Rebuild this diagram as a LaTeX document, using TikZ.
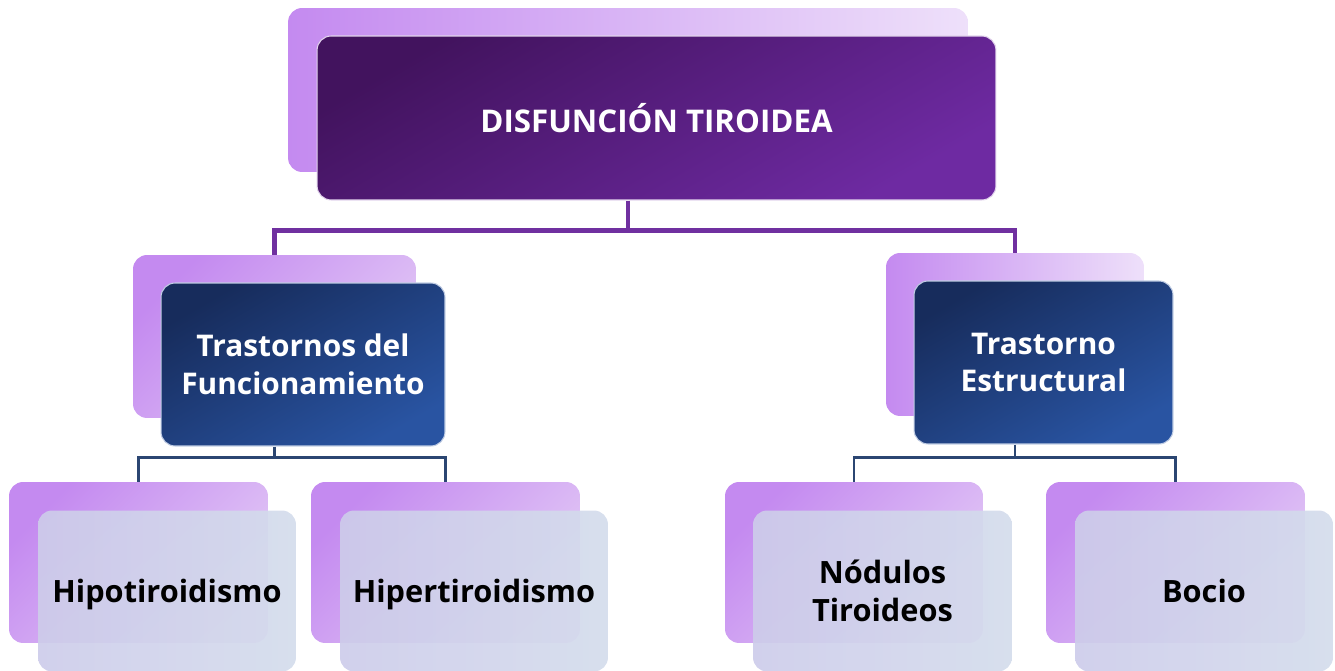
\documentclass[tikz,border=0pt]{standalone}
\usepackage{fontspec}
\setmainfont{Open Sans}
\usetikzlibrary{positioning}
\definecolor{lilacA}{HTML}{C48AF0}
\definecolor{lilacB}{HTML}{EEE0FA}
\definecolor{lilacC}{HTML}{E4CCF6}
\definecolor{plumA}{HTML}{42135E}
\definecolor{plumB}{HTML}{6E2AA2}
\definecolor{navyA}{HTML}{172C5C}
\definecolor{navyB}{HTML}{2954A2}
\definecolor{mistA}{HTML}{CDCCEA}
\definecolor{mistB}{HTML}{D4DCEC}
\definecolor{trunkline}{HTML}{7030A0}
\definecolor{branchline}{HTML}{2B4672}

\begin{document}
\begin{tikzpicture}[
  x=0.02cm, y=-0.02cm,
  font=\bfseries\fontsize{17}{21.5}\selectfont,
  card/.style={rounded corners=8pt, inner sep=0pt, align=center},
  backflat/.style={card, left color=lilacA, right color=lilacB},
  backdiag/.style={card, top color=lilacA, bottom color=lilacC, shading angle=45},
  rootbox/.style={card, top color=plumA, bottom color=plumB, shading angle=30,
                  draw=white!80!plumB, line width=0.6pt, text=white,
                  font=\bfseries\fontsize{17.8}{21.5}\selectfont},
  catbox/.style={card, top color=navyA, bottom color=navyB, shading angle=30,
                 draw=white!70!navyB, line width=0.6pt, text=white},
  leafbox/.style={card, left color=mistA, right color=mistB, fill opacity=0.92,
                  text opacity=1, text=black, text depth=0pt,
                  font=\bfseries\fontsize{17.5}{21.5}\selectfont},
  trunk/.style={draw=trunkline, line width=2.8pt},
  branch/.style={draw=branchline, line width=1.5pt},
]
\useasboundingbox (0,0) rectangle (1335,671);

% root
\node[backflat, minimum width=13.6cm, minimum height=3.28cm] (rootback) at (628,90) {};
\node[rootbox, minimum width=13.58cm, minimum height=3.28cm] (root) at (656.5,118)
  {DISFUNCIÓN TIROIDEA};

% categories
\node[backdiag, minimum width=5.66cm, minimum height=3.26cm] (funcback) at (274.5,336.5) {};
\node[catbox, minimum width=5.68cm, minimum height=3.26cm] (func) at (303,364.5)
  {Trastornos del\\Funcionamiento};
\node[backflat, minimum width=5.16cm, minimum height=3.26cm] (estrback) at (1015,334.5) {};
\node[catbox, minimum width=5.18cm, minimum height=3.26cm] (estr) at (1043.5,362.5)
  {Trastorno\\Estructural};

% leaves
\node[backdiag, minimum width=5.18cm, minimum height=3.22cm] (hipoback) at (138.5,562.5) {};
\node[leafbox, minimum width=5.16cm, minimum height=3.22cm] (hipo) at (167,591)
  {Hipotiroidismo};
\node[backdiag, minimum width=5.38cm, minimum height=3.22cm] (hiperback) at (445.5,562.5) {};
\node[leafbox, minimum width=5.36cm, minimum height=3.22cm] (hiper) at (474,591)
  {Hipertiroidismo};
\node[backdiag, minimum width=5.16cm, minimum height=3.22cm] (nodback) at (854,562.5) {};
\node[leafbox, minimum width=5.18cm, minimum height=3.22cm] (nod) at (882.5,591)
  {Nódulos\\Tiroideos};
\node[backdiag, minimum width=5.18cm, minimum height=3.22cm] (bocioback) at (1175.5,562.5) {};
\node[leafbox, minimum width=5.16cm, minimum height=3.22cm] (bocio) at (1204,591)
  {Bocio};

% connectors
\draw[trunk] (rootback.south |- root.south) -- ++(0,30) coordinate (split);
\draw[trunk] (funcback.north) |- (split) -| (estrback.north);

\draw[branch] (funcback.south |- func.south) -- ++(0,11) coordinate (funcsplit);
\draw[branch] (hipoback.north) |- (funcsplit) -| (hiperback.north);
\draw[branch] (estrback.south |- estr.south) -- ++(0,13) coordinate (estrsplit);
\draw[branch] (nodback.north) |- (estrsplit) -| (bocioback.north);

\end{tikzpicture}
\end{document}
